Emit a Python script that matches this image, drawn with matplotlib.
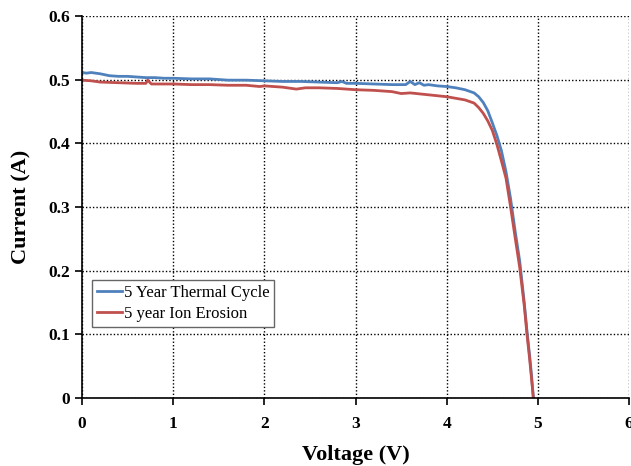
import matplotlib
matplotlib.use("Agg")
from matplotlib import pyplot as plt

# I-V curves
v_thermal = [0, 0.05, 0.1, 0.2, 0.3, 0.4, 0.5, 0.6, 0.7, 0.8, 0.9, 1.0, 1.2, 1.4, 1.6, 1.8,
             2.0, 2.2, 2.4, 2.6, 2.8, 2.85, 2.9, 3.0, 3.2, 3.4, 3.55, 3.6, 3.65, 3.7, 3.75,
             3.8, 3.9, 4.0, 4.1, 4.2, 4.3, 4.35, 4.4, 4.45, 4.5, 4.55, 4.6, 4.65, 4.7, 4.75,
             4.8, 4.85, 4.88, 4.91, 4.93, 4.95]
i_thermal = [0.511, 0.510, 0.511, 0.509, 0.506, 0.505, 0.505, 0.504, 0.503, 0.503, 0.502,
             0.502, 0.501, 0.501, 0.499, 0.499, 0.498, 0.497, 0.497, 0.496, 0.495, 0.497,
             0.494, 0.494, 0.493, 0.492, 0.492, 0.497, 0.492, 0.495, 0.491, 0.492, 0.490,
             0.489, 0.487, 0.484, 0.479, 0.473, 0.464, 0.451, 0.432, 0.412, 0.388, 0.355,
             0.313, 0.262, 0.215, 0.150, 0.105, 0.065, 0.035, 0.0]

v_ion = [0, 0.1, 0.2, 0.4, 0.6, 0.7, 0.72, 0.76, 1.0, 1.2, 1.4, 1.6, 1.8, 1.95, 2.0, 2.2,
         2.35, 2.45, 2.6, 2.8, 3.0, 3.2, 3.4, 3.5, 3.6, 3.8, 4.0, 4.2, 4.3, 4.35, 4.4, 4.45,
         4.5, 4.55, 4.6, 4.65, 4.7, 4.75, 4.8, 4.85, 4.88, 4.91, 4.93, 4.95]
i_ion = [0.499, 0.498, 0.496, 0.495, 0.494, 0.494, 0.499, 0.493, 0.493, 0.492, 0.492, 0.491,
         0.491, 0.489, 0.490, 0.488, 0.485, 0.487, 0.487, 0.486, 0.484, 0.483, 0.481, 0.478,
         0.479, 0.476, 0.473, 0.468, 0.463, 0.456, 0.447, 0.435, 0.420, 0.398, 0.372, 0.345,
         0.300, 0.252, 0.205, 0.145, 0.100, 0.060, 0.030, 0.0]

plt.rcParams['font.family'] = ['Liberation Serif', 'DejaVu Serif']

fig = plt.figure(figsize=(6.31, 4.66), dpi=100)
ax = fig.add_axes([0.130, 0.146, 0.867, 0.820])

ax.plot(v_thermal, i_thermal, color="#4F81BD", lw=2, label="5 Year Thermal Cycle")
ax.plot(v_ion, i_ion, color="#C0504D", lw=2, label="5 year Ion Erosion")

ax.set_xlim(0, 6)
ax.set_ylim(0, 0.6)
ax.set_xticks([0, 1, 2, 3, 4, 5, 6])
ax.set_yticks([0, 0.1, 0.2, 0.3, 0.4, 0.5, 0.6])
ax.set_yticklabels(["0", "0.1", "0.2", "0.3", "0.4", "0.5", "0.6"])
ax.grid(True, color="black", linestyle=(0, (1, 1.5)), linewidth=1)
ax.set_axisbelow(True)

for s in ["top", "right"]:
  ax.spines[s].set_visible(False)
for s in ["left", "bottom"]:
  ax.spines[s].set_linewidth(1.2)

ax.tick_params(direction="out", length=5, width=1.2, labelsize=12.5)
for lab in ax.get_xticklabels() + ax.get_yticklabels():
  lab.set_fontweight("bold")
ax.tick_params(axis="x", pad=8)

ax.set_xlabel("Voltage (V)", fontsize=16, fontweight="bold", labelpad=9)
ax.set_ylabel("Current (A)", fontsize=16, fontweight="bold", labelpad=12)

leg = ax.legend(loc="lower left", bbox_to_anchor=(0.018, 0.185), fontsize=12,
                handlelength=1.5, handletextpad=0.1, borderpad=0.3, labelspacing=0.3,
                fancybox=False, framealpha=1, edgecolor="#666666", borderaxespad=0)
leg.get_frame().set_linewidth(1)

fig.savefig("out.png", dpi=100)
